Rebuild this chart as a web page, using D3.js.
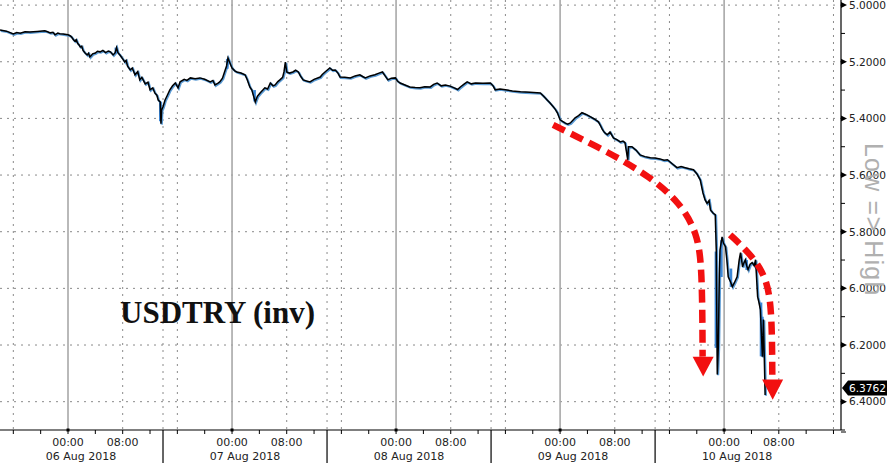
<!DOCTYPE html>
<html><head><meta charset="utf-8">
<script src="https://cdn.jsdelivr.net/npm/d3@7/dist/d3.min.js"></script>
<style>body{margin:0;background:#fff}svg{display:block}</style>
</head><body><svg id="c" width="890" height="470"></svg>
<script>
// hours since 06 Aug 2018 00:00
const hours = [-9.95,-9.0,-8.0,-7.5,-7.0,-6.3,-5.6,-4.5,-3.4,-3.0,-2.6,-2.2,-1.9,-1.5,-1.2,-0.7,0,0.3,0.5,0.8,1.0,1.2,1.4,1.6,1.8,2.0,2.2,2.5,2.8,3.0,3.2,3.4,3.6,4.0,4.3,4.7,5.1,5.5,5.9,6.2,6.6,6.9,7.1,7.3,7.6,8.0,8.3,8.5,8.7,9.1,9.4,9.8,10.2,10.5,10.8,11.3,11.7,12.0,12.4,12.7,13.0,13.2,13.5,13.6,13.7,13.9,14.2,14.5,14.9,15.3,15.7,16.1,16.4,17.0,17.4,17.9,18.6,19.3,20.0,20.8,21.2,21.5,21.9,22.2,22.6,23.0,23.2,23.4,23.7,24.0,24.4,24.7,25.3,25.9,26.2,26.6,26.9,27.1,27.4,27.7,28.1,28.5,28.8,29.2,29.6,30.0,30.3,30.7,31.0,31.4,31.6,31.8,32.0,32.4,32.9,33.3,33.7,34.0,34.4,34.9,35.4,36.0,36.9,37.2,37.6,38.3,38.7,39.1,39.5,39.8,40.5,41.3,42.0,42.7,43.1,43.5,44.2,44.9,45.5,46.0,46.4,46.8,47.3,47.9,48.2,48.6,49.3,50.0,50.8,51.5,52.2,53.0,53.5,54.0,54.6,55.2,55.9,56.5,57.0,57.4,57.9,58.4,59.0,59.6,60.7,61.8,62.2,62.5,63.2,64.0,65.0,66.2,67.6,69.1,69.6,70.1,70.5,71.0,71.3,71.6,72.0,72.3,72.7,73.1,73.5,74.2,74.7,75.2,75.8,76.4,77.0,77.6,77.9,78.2,78.5,78.9,79.3,79.8,80.3,80.8,81.2,81.5,81.9,82.0,82.5,83.1,83.7,84.4,85.2,85.9,86.6,87.2,87.7,88.4,89.1,89.7,90.3,90.9,91.5,92.0,92.5,92.9,93.2,93.5,93.8,94.0,94.4,94.7,94.85,95.0,95.15,95.3,95.4,95.7,95.9,96.2,96.4,96.6,96.9,97.2,97.5,97.9,98.2,98.4,98.7,98.9,99.1,99.3,99.5,99.8,100.1,100.4,100.6,100.9,101.1,101.3,101.6,101.75,102.0];
const usdtry = [5.088,5.092,5.102,5.097,5.099,5.094,5.095,5.093,5.091,5.094,5.098,5.096,5.105,5.099,5.101,5.102,5.105,5.108,5.112,5.122,5.127,5.122,5.135,5.140,5.148,5.145,5.160,5.169,5.176,5.170,5.183,5.178,5.172,5.169,5.163,5.165,5.160,5.168,5.162,5.165,5.176,5.168,5.150,5.168,5.176,5.190,5.201,5.195,5.215,5.229,5.222,5.246,5.235,5.264,5.255,5.278,5.272,5.299,5.292,5.310,5.318,5.335,5.342,5.419,5.370,5.359,5.335,5.320,5.299,5.285,5.275,5.292,5.271,5.262,5.266,5.257,5.260,5.257,5.262,5.271,5.266,5.282,5.276,5.271,5.258,5.229,5.215,5.187,5.205,5.222,5.232,5.236,5.240,5.246,5.262,5.289,5.300,5.317,5.342,5.322,5.310,5.300,5.292,5.296,5.275,5.285,5.282,5.270,5.264,5.255,5.236,5.201,5.236,5.240,5.236,5.230,5.236,5.250,5.264,5.268,5.271,5.262,5.254,5.245,5.236,5.222,5.230,5.229,5.240,5.254,5.255,5.257,5.250,5.246,5.252,5.257,5.250,5.246,5.240,5.236,5.250,5.264,5.258,5.257,5.268,5.275,5.282,5.289,5.291,5.292,5.288,5.289,5.280,5.275,5.285,5.282,5.286,5.292,5.298,5.289,5.280,5.271,5.278,5.275,5.276,5.275,5.285,5.299,5.296,5.299,5.303,5.306,5.308,5.310,5.322,5.335,5.345,5.359,5.368,5.380,5.405,5.410,5.416,5.420,5.416,5.398,5.390,5.380,5.386,5.394,5.402,5.412,5.425,5.440,5.450,5.458,5.448,5.469,5.475,5.483,5.480,5.486,5.546,5.500,5.500,5.512,5.529,5.535,5.539,5.540,5.543,5.548,5.546,5.560,5.574,5.570,5.574,5.578,5.581,5.595,5.617,5.663,5.687,5.700,5.690,5.723,5.735,5.740,5.864,6.304,6.206,5.950,5.864,5.818,5.840,5.853,5.900,5.959,5.975,5.994,5.980,5.959,5.900,5.874,5.924,5.910,5.899,5.920,5.934,5.915,5.909,5.920,5.899,6.029,6.050,6.075,6.241,6.110,6.3762];
// blue candle bodies: [hour, from, to]
const blueBars = [[7.0,5.150,5.170],[13.5,5.342,5.410],[23.3,5.190,5.225],[27.3,5.300,5.340],[94.8,5.870,6.210],[95.6,5.830,5.960],[97.0,5.930,5.995],[99.3,5.900,5.935],[101.4,6.050,6.240],[101.6,6.100,6.240]];
const yTicks = [5.0,5.2,5.4,5.6,5.8,6.0,6.2,6.4];
const yMinor = [5.1,5.3,5.5,5.7,5.9,6.1,6.3,6.5];
const timeLabels = ["00:00","08:00"];
const dayStarts = [0,24,48,72,96];
const dateLabels = ["06 Aug 2018","07 Aug 2018","08 Aug 2018","09 Aug 2018","10 Aug 2018"];
const sessionBreaks = [13.9,37.9,61.9,85.9];
const arrow1 = [[70.98,5.423],[79.32,5.522],[85.17,5.606],[89.57,5.698],[92.05,5.804],[92.78,5.924],[92.85,6.241]];
const arrow1Head = [92.93,6.241,6.311];
const arrow2 = [[96.88,5.811],[100.25,5.888],[102.3,5.969],[103.0,6.086],[103.05,6.322]];
const arrow2Head = [103.1,6.322,6.393];

const svg = d3.select("#c");
const x = d3.scaleLinear().domain([-9.95,113.1]).range([0,841]);
const y = d3.scaleLinear().domain([4.982,6.5]).range([0,430]);
const X0=0, X1=841, Y0=0, Y1=430;
const font = "DejaVu Sans, Verdana, sans-serif";

// horizontal dotted grid
svg.append("g").selectAll("line").data(yTicks).join("line")
  .attr("x1",X0).attr("x2",X1).attr("y1",d=>y(d)).attr("y2",d=>y(d))
  .attr("stroke","#8a8a8a").attr("stroke-width",1).attr("stroke-dasharray","2,5");
// vertical dotted grid at 08:00 & 16:00 and session breaks
const dotted = [];
for (let h=-8; h<=113; h+=8) if (((h%24)+24)%24!==0) dotted.push(h);
svg.append("g").selectAll("line").data(dotted.concat(sessionBreaks)).join("line")
  .attr("x1",d=>x(d)).attr("x2",d=>x(d)).attr("y1",Y0).attr("y2",Y1)
  .attr("stroke","#8a8a8a").attr("stroke-width",1).attr("stroke-dasharray","2,5");
// solid midnight lines
svg.append("g").selectAll("line").data(dayStarts).join("line")
  .attr("x1",d=>x(d)).attr("x2",d=>x(d)).attr("y1",Y0).attr("y2",Y1)
  .attr("stroke","#a8a8a8").attr("stroke-width",1.6);

// title
svg.append("text").attr("x",120).attr("y",323)
  .attr("font-family","Liberation Serif, Times New Roman, serif").attr("font-weight","bold")
  .attr("font-size",31).attr("fill","#111").text("USDTRY (inv)");

// series
const pts = hours.map((h,i)=>[h,usdtry[i]]);
const line = d3.line().x(d=>x(d[0])).y(d=>y(d[1]));
svg.append("path").attr("d",line(pts)).attr("fill","none")
  .attr("stroke","#5b9bd5").attr("stroke-width",2.2).attr("transform","translate(0.8,0.8)");
svg.append("g").selectAll("line").data(blueBars).join("line")
  .attr("x1",d=>x(d[0])).attr("x2",d=>x(d[0])).attr("y1",d=>y(d[1])).attr("y2",d=>y(d[2]))
  .attr("stroke","#3a86d6").attr("stroke-width",2.6);
svg.append("path").attr("d",line(pts)).attr("fill","none")
  .attr("stroke","#000").attr("stroke-width",1.5).attr("stroke-linejoin","miter");

// red arrows
const curve = d3.line().x(d=>x(d[0])).y(d=>y(d[1])).curve(d3.curveBasis);
function arrow(path, head){
  svg.append("path").attr("d",curve(path)).attr("fill","none")
    .attr("stroke","#f21010").attr("stroke-width",6.5).attr("stroke-dasharray","13,7");
  const cx=x(head[0]), yb=y(head[1]), yt=y(head[2]);
  svg.append("path").attr("d",`M${cx-10.5},${yb}L${cx+10.5},${yb}L${cx},${yt}Z`).attr("fill","#f21010");
}
arrow(arrow1, arrow1Head);
arrow(arrow2, arrow2Head);

// bottom axis
svg.append("line").attr("x1",X0).attr("x2",X1).attr("y1",Y1).attr("y2",Y1).attr("stroke","#000").attr("stroke-width",1.2);
const ticks4 = d3.range(-8,113,4);
svg.append("g").selectAll("line").data(ticks4).join("line")
  .attr("x1",d=>x(d)).attr("x2",d=>x(d)).attr("y1",Y1).attr("y2",Y1+4).attr("stroke","#000");
svg.append("g").selectAll("rect").data(dayStarts).join("rect")
  .attr("x",d=>x(d)-1.5).attr("y",Y1-1.5).attr("width",3).attr("height",3).attr("fill","#000");
svg.append("g").selectAll("line").data(sessionBreaks).join("line")
  .attr("x1",d=>x(d)).attr("x2",d=>x(d)).attr("y1",Y1).attr("y2",Y1+33).attr("stroke","#000").attr("stroke-width",1.2);
const tl = [];
dayStarts.forEach(d=>{tl.push([d,timeLabels[0]]);tl.push([d+8,timeLabels[1]]);});
svg.append("g").selectAll("text").data(tl).join("text")
  .attr("x",d=>x(d[0])).attr("y",446).attr("text-anchor","middle")
  .attr("font-family",font).attr("font-size",11).attr("fill","#222").text(d=>d[1]);
svg.append("g").selectAll("text").data(dateLabels).join("text")
  .attr("x",(d,i)=>x(sessionBreaks[0]+24*(i-1)+12)).attr("y",460).attr("text-anchor","middle")
  .attr("font-family",font).attr("font-size",11).attr("fill","#222").text(d=>d);

// right axis
svg.append("line").attr("x1",X1).attr("x2",X1).attr("y1",Y0).attr("y2",Y1).attr("stroke","#000").attr("stroke-width",1.2);
svg.append("line").attr("x1",X1).attr("x2",X1+5).attr("y1",Y1+2).attr("y2",Y1+2).attr("stroke","#000");
svg.append("g").selectAll("line").data(yMinor).join("line")
  .attr("x1",X1).attr("x2",X1+4).attr("y1",d=>y(d)).attr("y2",d=>y(d)).attr("stroke","#000");
svg.append("g").selectAll("path").data(yTicks).join("path")
  .attr("d",d=>`M${X1},${y(d)-3}L${X1+6},${y(d)}L${X1},${y(d)+3}Z`).attr("fill","#000");
svg.append("g").selectAll("text").data(yTicks).join("text")
  .attr("x",X1+8).attr("y",d=>y(d)).attr("dy","0.36em")
  .attr("font-family",font).attr("font-size",10.6).attr("fill","#222").text(d=>d.toFixed(4));

// axis caption
svg.append("text").attr("transform","translate(865,143) rotate(90)")
  .attr("font-family","Liberation Sans, Arial, sans-serif").attr("font-size",25)
  .attr("letter-spacing",1.2).attr("fill","#b0b0b0").text("Low => High");

// last price tag
const last = usdtry[usdtry.length-1];
const tag = svg.append("g").attr("transform",`translate(${X1},${y(last)-7})`);
tag.append("path").attr("d","M1,0L7,-7.5H46V7.5H7Z").attr("fill","#000");
tag.append("text").attr("x",26.5).attr("dy","0.36em").attr("text-anchor","middle")
  .attr("font-family",font).attr("font-size",10.6).attr("fill","#fff").text(last.toFixed(4));
</script></body></html>
